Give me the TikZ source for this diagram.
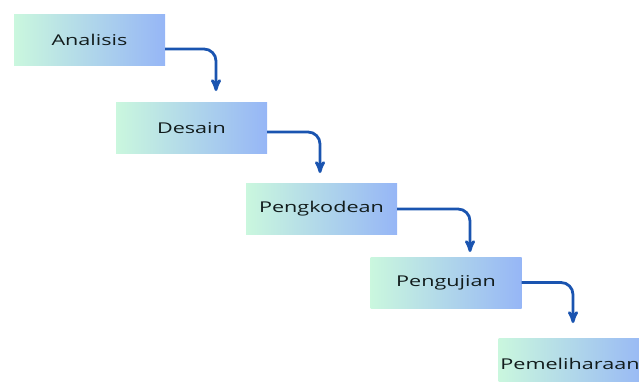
\documentclass[tikz,border=0pt]{standalone}
\usepackage{xcolor}
\usepackage{fontspec}
\setmainfont{Open Sans}[FakeStretch=1.45]
\definecolor{colorStageLeft}{RGB}{202,247,222}
\definecolor{colorStageRight}{RGB}{150,182,246}
\definecolor{colorFlow}{RGB}{26,84,176}
\definecolor{colorText}{RGB}{18,28,28}
\usepackage{tikz}
\usetikzlibrary{arrows, positioning}
\tikzset{stage/.style={minimum width=151pt, minimum height=51pt, inner sep=0pt,
  left color=colorStageLeft, right color=colorStageRight, text=colorText,
  font=\fontsize{14.9}{17}\selectfont}}

\begin{document}
\begin{tikzpicture}[x=1pt, y=-1pt, >=stealth', flow/.style={->, colorFlow, line width=2.8pt, rounded corners=12pt}]
\useasboundingbox (0,0) rectangle (639,381);
\node[stage] (analisis) at (89.5,39.5) {Analisis};
\node[stage] (desain) at (191.5,128) {Desain};
\node[stage] (kode) at (321.5,208.5) {Pengkodean};
\node[stage] (uji) at (446,282.5) {Pengujian};
\node[stage] (pelihara) at (574,363.5) {\hspace*{-8pt}Pemeliharaan};
\coordinate (t1) at (216,91);
\coordinate (t2) at (320,173);
\coordinate (t3) at (470,252);
\coordinate (t4) at (573,323);
\draw [flow] ([yshift=-9.5pt]analisis.east) -| (t1);
\draw [flow] ([yshift=-4pt]desain.east) -| (t2);
\draw [flow] ([yshift=-0.5pt]kode.east) -| (t3);
\draw [flow] (uji.east) -| (t4);
\end{tikzpicture}
\end{document}
